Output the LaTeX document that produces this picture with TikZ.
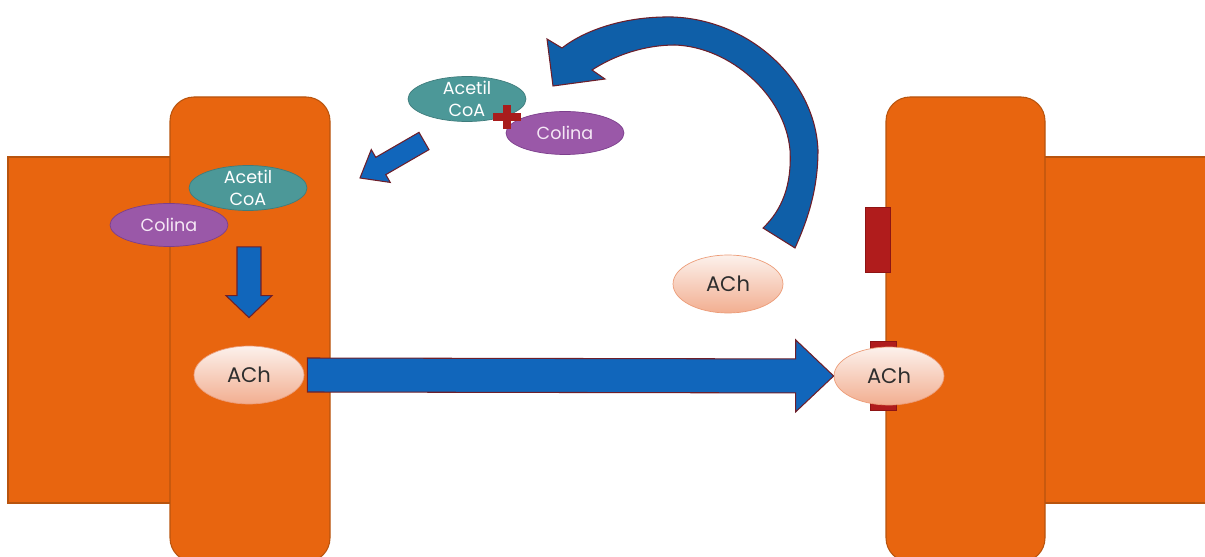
\documentclass[tikz,border=0pt]{standalone}
\usepackage{fontspec}
\setmainfont{Poppins}
\usetikzlibrary{calc, positioning, shapes.geometric}
\definecolor{cellOrange}{HTML}{E8650F}
\definecolor{cellEdge}{HTML}{B8540E}
\definecolor{acetilTeal}{HTML}{4C9898}
\definecolor{acetilEdge}{HTML}{3F7C7C}
\definecolor{colinaPurple}{HTML}{9A58A8}
\definecolor{colinaEdge}{HTML}{7C3F8C}
\definecolor{colinaText}{HTML}{F5E8F5}
\definecolor{achTop}{HTML}{FCF1EC}
\definecolor{achBottom}{HTML}{F2AE90}
\definecolor{achEdge}{HTML}{EC9C78}
\definecolor{textDark}{HTML}{2E2E2E}
\definecolor{receptorRed}{HTML}{B01C1C}
\definecolor{receptorEdge}{HTML}{8E1414}
\definecolor{arrowBlue}{HTML}{1166BB}
\definecolor{curveBlue}{HTML}{0F5FA8}
\definecolor{arrowEdge}{HTML}{6E1F2A}
\definecolor{plusRed}{HTML}{A81C1C}
\tikzset{
  cell/.style={fill=cellOrange, draw=cellEdge, line width=0.6pt},
  acetil/.style={ellipse, fill=acetilTeal, draw=acetilEdge, text=white,
                 align=center, font=\fontsize{10}{12.5}\selectfont,
                 minimum width=2.36cm, minimum height=0.9cm, inner xsep=0pt, inner ysep=-8pt},
  colina/.style={ellipse, fill=colinaPurple, draw=colinaEdge, text=colinaText,
                 font=\fontsize{10}{12}\selectfont,
                 minimum width=2.36cm, minimum height=0.86cm, inner sep=0pt},
  ach/.style={ellipse, top color=achTop, bottom color=achBottom, draw=achEdge,
              text=textDark, font=\fontsize{12}{14}\selectfont,
              minimum width=2.2cm, minimum height=1.16cm, inner sep=0pt},
  receptor/.style={rectangle, fill=receptorRed, draw=receptorEdge, inner sep=0pt},
  blockArrow/.style={fill=arrowBlue, draw=arrowEdge, line width=0.6pt, line join=miter},
}
% #1 tail, #2 tip, #3 half shaft, #4 half head, #5 head length
\newcommand{\blockarrow}[5]{%
  \coordinate (ba) at ($(#2)!#5!(#1)$);
  \draw[blockArrow] ($(#1)!#3!90:(#2)$) -- ($(ba)!#3!90:(#2)$)
    -- ($(ba)!#4!90:(#2)$) -- (#2) -- ($(ba)!#4!-90:(#2)$)
    -- ($(ba)!#3!-90:(#2)$) -- ($(#1)!#3!-90:(#2)$) -- cycle;
}

\begin{document}
\begin{tikzpicture}[x=0.02cm, y=-0.02cm]
  \useasboundingbox (0,0) rectangle (1205,557);
  % cells
  \draw[cell] (8,157) rectangle (250,503);
  \draw[cell, rounded corners=0.48cm] (170,97) rectangle (330,562);
  \draw[cell] (960,157) rectangle (1207,503);
  \draw[cell, rounded corners=0.48cm] (886,97) rectangle (1045,562);

  \node[receptor, minimum width=0.5cm, minimum height=1.3cm] (recUp) at (878,240) {};
  \node[receptor, minimum width=0.52cm, minimum height=1.38cm] (recLow) at (883,376) {};

  \node[acetil] (acetilL) at (248,188) {Acetil\\CoA};
  \node[colina] (colinaL) at (169,225) {Colina};
  \node[ach] (achL) at (249,375) {ACh};
  \node[ach] (achR) at (889,376) {ACh};
  \node[ach] (achFree) at (728,284) {ACh};
  \node[acetil] (acetilT) at (467,99) {Acetil\\CoA};
  \node[colina] (colinaT) at (565,133) {Colina};

  \coordinate (plus) at (507,117);
  \fill[plusRed] ($(plus)+(-14,-4)$) rectangle ($(plus)+(14,4)$);
  \fill[plusRed] ($(plus)+(-4,-12)$) rectangle ($(plus)+(4,12)$);

  \coordinate (synTail) at ($(achL.east)+(3,0)$);
  \blockarrow{synTail}{achR.west}{0.34cm}{0.72cm}{0.76cm}
  \coordinate (downTail) at (achL |- colinaL.south);
  \coordinate (downTip) at ($(achL.north)+(0,-28)$);
  \blockarrow{downTail}{downTip}{0.24cm}{0.46cm}{0.44cm}
  \coordinate (backTail) at (424,141);
  \coordinate (backTip) at (360,178);
  \blockarrow{backTail}{backTip}{0.2cm}{0.38cm}{0.48cm}

  % recycling arrow
  \draw[blockArrow, fill=curveBlue] (795,248) .. controls (810,215) and (818,185) .. (818,150)
    .. controls (815,80) and (750,20) .. (673,17)
    .. controls (625,16) and (585,30) .. (562,48)
    -- (547,39) -- (553,86) -- (605,79) -- (592,70)
    .. controls (615,55) and (645,45) .. (675,45)
    .. controls (730,47) and (785,95) .. (790,150)
    .. controls (792,185) and (782,210) .. (763,228) -- cycle;
\end{tikzpicture}
\end{document}
